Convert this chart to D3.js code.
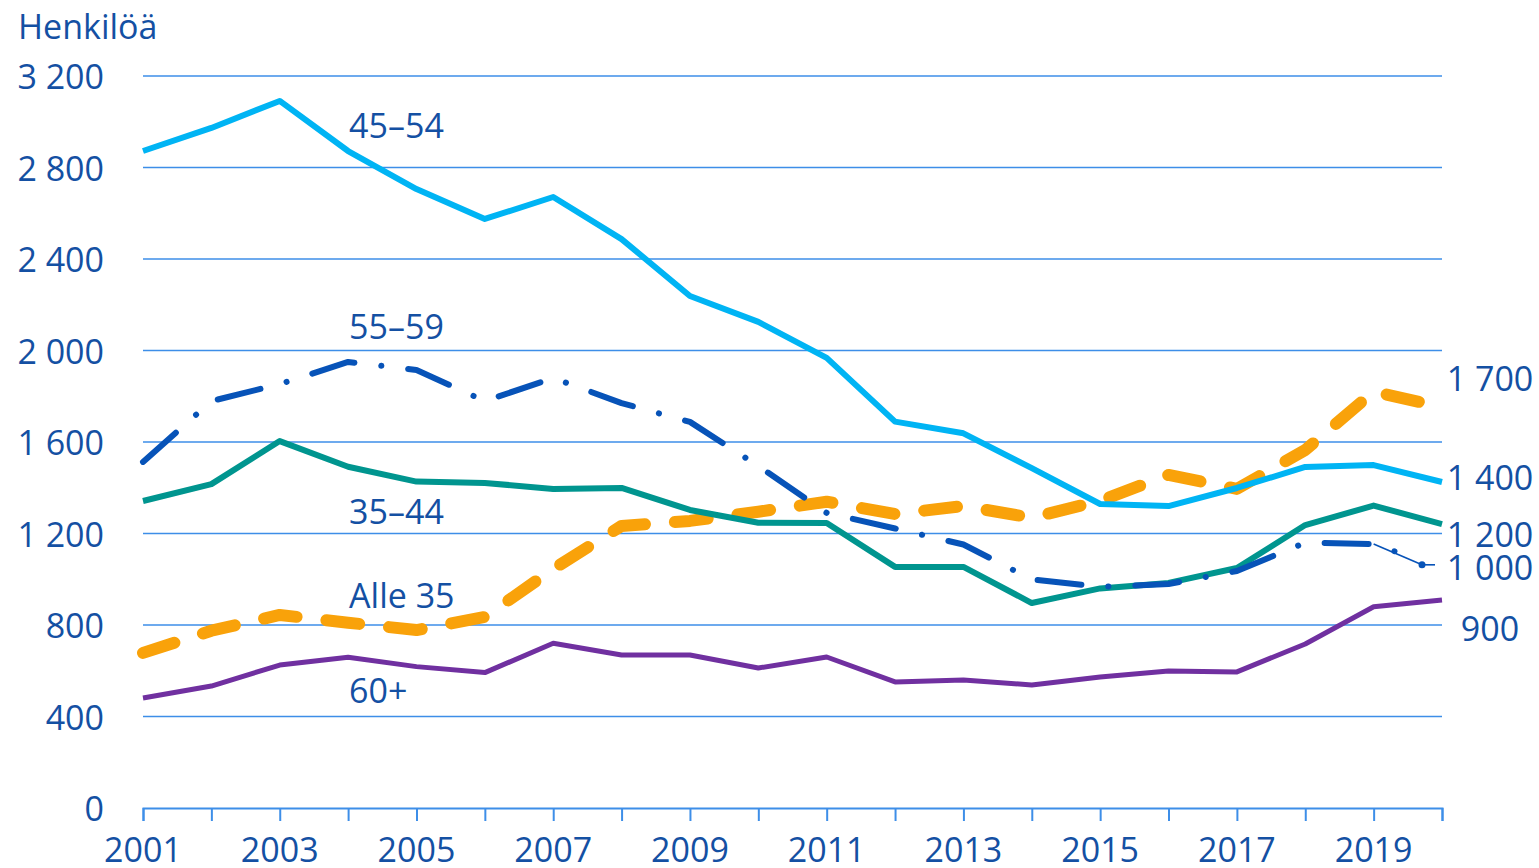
<!DOCTYPE html>
<html>
<head>
<meta charset="utf-8">
<script src="https://cdn.jsdelivr.net/npm/d3@7/dist/d3.min.js"></script>
<style>
  html, body { margin: 0; padding: 0; background: #fff; }
  svg { display: block; }
  text { font-family: "Open Sans", "Noto Sans", sans-serif; fill: #1450a3; }
</style>
</head>
<body>
<svg id="chart" width="1539" height="868"></svg>
<script>
const years = d3.range(2001, 2021);
const yTicks = [0, 400, 800, 1200, 1600, 2000, 2400, 2800, 3200];
const xTickLabels = [2001, 2003, 2005, 2007, 2009, 2011, 2013, 2015, 2017, 2019];

const s45_54 = [2872, 2973, 3091, 2872, 2706, 2575, 2671, 2487, 2238, 2125, 1968, 1689, 1638, 1486, 1329, 1320, 1399, 1491, 1499, 1425];
const s35_44 = [1342, 1416, 1604, 1492, 1427, 1421, 1395, 1399, 1303, 1247, 1246, 1054, 1054, 896, 960, 984, 1049, 1237, 1322, 1241];
const s55_59 = [1513, 1779, 1853, 1950, 1915, 1779, 1880, 1770, 1688, 1495, 1290, 1222, 1152, 999, 967, 979, 1036, 1160, 1154, 1050];
const sAlle35 = [678, 775, 844, 810, 778, 835, 1045, 1233, 1255, 1295, 1339, 1285, 1320, 1269, 1343, 1456, 1395, 1565, 1820, 1753];
const s60 = [481, 533, 625, 659, 618, 592, 720, 669, 669, 612, 660, 551, 560, 538, 573, 599, 595, 717, 880, 909];

const seriesNames = ["45–54", "55–59", "35–44", "Alle 35", "60+"];
const seriesLabelValues = [2986, 2107, 1298, 931, 516];
const endLabels = ["1 700", "1 400", "1 200", "1 000", "900"];
const endLabelValues = [1880, 1446, 1197, 1052, 786];

const svg = d3.select("#chart");
const x = d3.scaleLinear().domain([2001, 2020]).range([143, 1442]);
const y = d3.scaleLinear().domain([0, 3200]).range([808, 76]);

const gridColor = "#3d8ee8";

// gridlines
svg.append("g").selectAll("line").data(yTicks.filter(d => d > 0)).join("line")
  .attr("x1", x(2001)).attr("x2", x(2020))
  .attr("y1", d => y(d)).attr("y2", d => y(d))
  .attr("stroke", gridColor).attr("stroke-width", 1.7);

// y tick labels
svg.append("g").selectAll("text").data(yTicks).join("text")
  .attr("x", 104).attr("y", d => y(d))
  .attr("text-anchor", "end").attr("dominant-baseline", "central")
  .style("font-size", "34px")
  .text(d => d3.format(",")(d).replace(",", " "));

// x axis
const xAxis = d3.axisBottom(x).tickValues(years).tickSize(13).tickFormat("");
const gx = svg.append("g").attr("transform", `translate(0,${y(0)})`).call(xAxis);
gx.select(".domain").attr("stroke", gridColor).attr("stroke-width", 2);
gx.selectAll(".tick line").attr("stroke", gridColor).attr("stroke-width", 2);

svg.append("g").selectAll("text").data(xTickLabels).join("text")
  .attr("x", d => x(d)).attr("y", 862)
  .attr("text-anchor", "middle")
  .style("font-size", "34px")
  .text(d => d);

// title
svg.append("text").attr("x", 18).attr("y", 39).style("font-size", "34px").text("Henkilöä");

const line = d3.line().x((d, i) => x(years[i])).y(d => y(d));

// Alle 35 (orange dashed)
svg.append("path").datum(sAlle35).attr("d", line)
  .attr("fill", "none").attr("stroke", "#f9a20a").attr("stroke-width", 12)
  .attr("stroke-linecap", "round").attr("stroke-linejoin", "round")
  .attr("stroke-dasharray", "33 30");

// 35-44 teal
svg.append("path").datum(s35_44).attr("d", line)
  .attr("fill", "none").attr("stroke", "#00958f").attr("stroke-width", 6)
  .attr("stroke-linejoin", "round");

// 45-54 light blue
svg.append("path").datum(s45_54).attr("d", line)
  .attr("fill", "none").attr("stroke", "#00b4f4").attr("stroke-width", 6)
  .attr("stroke-linejoin", "round");

// 60+ purple
svg.append("path").datum(s60).attr("d", line)
  .attr("fill", "none").attr("stroke", "#7030a0").attr("stroke-width", 5)
  .attr("stroke-linejoin", "round");

// 55-59 dark blue dash-dot, thick part ends before last point, thin end segment
const dbColor = "#0753b8";
svg.append("clipPath").attr("id", "dbclip").append("rect")
  .attr("x", 0).attr("y", 0).attr("width", x(2019.36)).attr("height", 868);
svg.append("path").datum(s55_59).attr("d", line)
  .attr("clip-path", "url(#dbclip)")
  .attr("fill", "none").attr("stroke", dbColor).attr("stroke-width", 6)
  .attr("stroke-linecap", "round").attr("stroke-linejoin", "round")
  .attr("stroke-dasharray", "44 27 0.1 27");
svg.append("line")
  .attr("x1", x(2019)).attr("y1", y(s55_59[18]))
  .attr("x2", x(2020) - 20).attr("y2", y(s55_59[19]) - 3)
  .attr("stroke", dbColor).attr("stroke-width", 1.6);
svg.append("line")
  .attr("x1", x(2020) - 20).attr("y1", y(s55_59[19]) - 3)
  .attr("x2", x(2020) - 7).attr("y2", y(s55_59[19]) - 3)
  .attr("stroke", dbColor).attr("stroke-width", 1.6);
svg.append("circle").attr("cx", x(2020) - 20).attr("cy", y(s55_59[19]) - 3).attr("r", 3.5).attr("fill", dbColor);

// series labels
svg.append("g").selectAll("text").data(seriesNames).join("text")
  .attr("x", x(2004) + 1).attr("y", (d, i) => y(seriesLabelValues[i]))
  .attr("dominant-baseline", "central")
  .style("font-size", "34px")
  .text(d => d);

// end labels
svg.append("g").selectAll("text").data(endLabels).join("text")
  .attr("x", x(2020) + 48).attr("y", (d, i) => y(endLabelValues[i]))
  .attr("text-anchor", "middle").attr("dominant-baseline", "central")
  .style("font-size", "34px")
  .text(d => d);
</script>
</body>
</html>
